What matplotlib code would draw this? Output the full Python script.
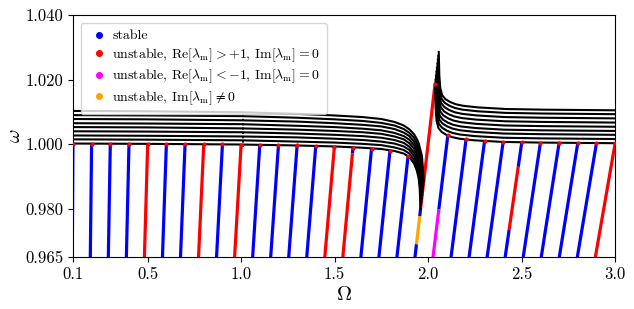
import numpy as np
import matplotlib
matplotlib.use("Agg")
import matplotlib.pyplot as plt
from matplotlib.lines import Line2D

plt.rcParams['font.family'] = 'serif'
plt.rcParams['font.serif'] = ['cmr10', 'DejaVu Serif']
plt.rcParams['mathtext.fontset'] = 'cm'
plt.rcParams['axes.unicode_minus'] = False
plt.rcParams['axes.formatter.use_mathtext'] = True

# ---------------- data ----------------
# colored response lines: top point, bottom point (omega = 0.965)
line_top_x = [0.100, 0.200, 0.300, 0.400, 0.500, 0.600, 0.700, 0.800, 0.900, 0.9996,
              1.0999, 1.1998, 1.2996, 1.3992, 1.4988, 1.5981, 1.6975, 1.7964, 1.8928, 2.0376,
              2.1063, 2.2033, 2.3021, 2.4017, 2.5015, 2.6013, 2.7011, 2.8011, 2.9009, 3.0009]
line_top_y = [1.0000, 1.0000, 1.0000, 1.0000, 1.0000, 1.0000, 1.0000, 1.0000, 1.0000, 0.9996,
              0.9999, 0.9998, 0.9997, 0.9994, 0.9992, 0.9988, 0.9985, 0.9980, 0.9962, 1.0188,
              1.0030, 1.0015, 1.0009, 1.0007, 1.0006, 1.0005, 1.0004, 1.0004, 1.0003, 1.0003]
line_bot_x = [0.0965, 0.193, 0.2895, 0.386, 0.4825, 0.579, 0.6755, 0.772, 0.8685, 0.965,
              1.0615, 1.158, 1.2545, 1.351, 1.4475, 1.544, 1.6405, 1.737, 1.8335, 1.930,
              2.0265, 2.123, 2.2195, 2.316, 2.4125, 2.509, 2.6055, 2.702, 2.7985, 2.895]
line_bot_y = 0.965

# stability segments along lines (line index starting at 1): (omega_from, omega_to, code)
segments = {
    5: [(0.965, 1.0000, 'r')],
    8: [(0.965, 1.0000, 'r')],
    10: [(0.965, 0.9996, 'r')],
    15: [(0.965, 0.9992, 'r')],
    16: [(0.965, 0.9972, 'r'), (0.9972, 0.9988, 'b')],
    20: [(0.965, 0.9690, 'b'), (0.9690, 0.9777, 'o'), (0.9777, 0.9805, 'b'), (0.9805, 1.0188, 'r')],
    21: [(0.965, 0.9798, 'm'), (0.9798, 1.0030, 'b')],
    25: [(0.965, 0.9734, 'b'), (0.9734, 0.9930, 'r'), (0.9930, 1.0006, 'b')],
    30: [(0.965, 1.0003, 'r')],
}
colors = {'b': '#0000ff', 'r': '#ff0000', 'm': '#ff00ff', 'o': '#ffa500'}

# black backbone curves, left branch
left_grid = [0.10, 0.50, 1.00, 1.30, 1.50, 1.65, 1.75, 1.82, 1.87, 1.90, 1.925, 1.94, 1.95]
left_curves = [
    [1.0002, 1.0001, 0.9999, 0.9996, 0.9993, 0.9989, 0.9985, 0.9979, 0.9971, 0.9960, 0.9940, 0.9918, 0.9893],
    [1.0015, 1.0014, 1.0012, 1.0008, 1.0005, 1.0001, 0.9997, 0.9990, 0.9982, 0.9971, 0.9951, 0.9930, 0.9907],
    [1.0027, 1.0026, 1.0024, 1.0021, 1.0017, 1.0013, 1.0008, 1.0002, 0.9993, 0.9982, 0.9963, 0.9943, 0.9921],
    [1.0040, 1.0039, 1.0037, 1.0033, 1.0029, 1.0025, 1.0020, 1.0013, 1.0004, 0.9992, 0.9974, 0.9955, 0.9934],
    [1.0053, 1.0052, 1.0049, 1.0045, 1.0041, 1.0037, 1.0032, 1.0024, 1.0015, 1.0003, 0.9986, 0.9967, 0.9948],
    [1.0065, 1.0064, 1.0062, 1.0057, 1.0053, 1.0048, 1.0043, 1.0035, 1.0025, 1.0014, 0.9997, 0.9979, 0.9962],
    [1.0078, 1.0077, 1.0074, 1.0070, 1.0065, 1.0060, 1.0055, 1.0047, 1.0036, 1.0025, 1.0008, 0.9992, 0.9976],
    [1.0090, 1.0089, 1.0087, 1.0082, 1.0077, 1.0072, 1.0066, 1.0058, 1.0047, 1.0035, 1.0020, 1.0004, 0.9989],
    [1.0103, 1.0102, 1.0099, 1.0094, 1.0089, 1.0084, 1.0078, 1.0069, 1.0058, 1.0046, 1.0031, 1.0016, 1.0003],
]
left_tail_x = [[1.9555, 1.9596], [1.9570, 1.9618], [1.9585, 1.9640], [1.9600, 1.9662], [1.9615, 1.9684],
               [1.9630, 1.9706], [1.9645, 1.9728], [1.9660, 1.9750], [1.9675, 1.9772]]
left_tail_y = [[0.9860, 0.9798], [0.9872, 0.9809], [0.9885, 0.9820], [0.9898, 0.9831], [0.9911, 0.9842],
               [0.9924, 0.9853], [0.9937, 0.9864], [0.9950, 0.9875], [0.9963, 0.9886]]

# black backbone curves, right branch
right_x = [
    [2.0376, 2.0406, 2.0456, 2.0556, 2.0726, 2.0976, 2.1276, 2.1676, 2.2476, 2.3976, 2.5976, 3.0],
    [2.0400, 2.0430, 2.0480, 2.0580, 2.0750, 2.1000, 2.1300, 2.1700, 2.2500, 2.4000, 2.6000, 3.0],
    [2.0426, 2.0456, 2.0506, 2.0606, 2.0776, 2.1026, 2.1326, 2.1726, 2.2526, 2.4026, 2.6026, 3.0],
    [2.0450, 2.0480, 2.0530, 2.0630, 2.0800, 2.1050, 2.1350, 2.1750, 2.2550, 2.4050, 2.6050, 3.0],
    [2.0474, 2.0504, 2.0554, 2.0654, 2.0824, 2.1074, 2.1374, 2.1774, 2.2574, 2.4074, 2.6074, 3.0],
    [2.0500, 2.0530, 2.0580, 2.0680, 2.0850, 2.1100, 2.1400, 2.1800, 2.2600, 2.4100, 2.6100, 3.0],
    [2.0524, 2.0554, 2.0604, 2.0704, 2.0874, 2.1124, 2.1424, 2.1824, 2.2624, 2.4124, 2.6124, 3.0],
    [2.0548, 2.0578, 2.0628, 2.0728, 2.0898, 2.1148, 2.1448, 2.1848, 2.2648, 2.4148, 2.6148, 3.0],
    [2.0572, 2.0602, 2.0652, 2.0752, 2.0922, 2.1172, 2.1472, 2.1872, 2.2672, 2.4172, 2.6172, 3.0],
]
right_y = [
    [1.0188, 1.0112, 1.0072, 1.0050, 1.0038, 1.0029, 1.0022, 1.0017, 1.0012, 1.0007, 1.0005, 1.0003],
    [1.0200, 1.0125, 1.0085, 1.0063, 1.0051, 1.0042, 1.0035, 1.0030, 1.0025, 1.0020, 1.0018, 1.0016],
    [1.0213, 1.0138, 1.0098, 1.0076, 1.0064, 1.0055, 1.0048, 1.0043, 1.0038, 1.0033, 1.0031, 1.0029],
    [1.0225, 1.0150, 1.0110, 1.0088, 1.0076, 1.0067, 1.0060, 1.0055, 1.0050, 1.0045, 1.0043, 1.0041],
    [1.0237, 1.0163, 1.0123, 1.0101, 1.0089, 1.0080, 1.0073, 1.0068, 1.0063, 1.0058, 1.0056, 1.0054],
    [1.0250, 1.0176, 1.0136, 1.0114, 1.0102, 1.0093, 1.0086, 1.0081, 1.0076, 1.0071, 1.0069, 1.0067],
    [1.0262, 1.0189, 1.0149, 1.0127, 1.0115, 1.0106, 1.0099, 1.0094, 1.0089, 1.0084, 1.0082, 1.0080],
    [1.0274, 1.0202, 1.0162, 1.0140, 1.0128, 1.0119, 1.0112, 1.0107, 1.0102, 1.0097, 1.0095, 1.0093],
    [1.0286, 1.0214, 1.0174, 1.0152, 1.0140, 1.0131, 1.0124, 1.0119, 1.0114, 1.0109, 1.0107, 1.0105],
]

# dotted vertical jump at Omega ~ 1
jump_x = [1.008, 1.008]
jump_y = [0.9991, 1.0096]

x_ticks = [0.1, 0.5, 1.0, 1.5, 2.0, 2.5, 3.0]
x_tick_labels = ['0.1', '0.5', '1.0', '1.5', '2.0', '2.5', '3.0']
y_ticks = [0.965, 0.980, 1.000, 1.020, 1.040]
y_tick_labels = ['0.965', '0.980', '1.000', '1.020', '1.040']

legend_labels = [
    'stable',
    r'unstable, Re$[\lambda_\mathrm{m}] > +1$, Im$[\lambda_\mathrm{m}] = 0$',
    r'unstable, Re$[\lambda_\mathrm{m}] < -1$, Im$[\lambda_\mathrm{m}] = 0$',
    r'unstable, Im$[\lambda_\mathrm{m}] \neq 0$',
]
legend_codes = ['b', 'r', 'm', 'o']

# ---------------- plot ----------------
fig = plt.figure(figsize=(6.34, 3.09), dpi=100)
ax = fig.add_axes([0.115, 0.168, 0.855, 0.783])

lw_col = 2.3
for i in range(len(line_top_x)):
    n = i + 1
    xb, xt = line_bot_x[i], line_top_x[i]
    yb, yt = line_bot_y, line_top_y[i]
    segs = segments.get(n, [(yb, yt, 'b')])
    for (y0, y1, c) in segs:
        x0 = np.interp(y0, [yb, yt], [xb, xt])
        x1 = np.interp(y1, [yb, yt], [xb, xt])
        ax.plot([x0, x1], [y0, y1], color=colors[c], lw=lw_col,
                solid_capstyle='butt', zorder=2)

for k in range(len(left_curves)):
    xs = list(left_grid) + left_tail_x[k]
    ys = list(left_curves[k]) + left_tail_y[k]
    ax.plot(xs, ys, color='black', lw=1.5, zorder=3)
for k in range(len(right_x)):
    ax.plot(right_x[k], right_y[k], color='black', lw=1.5, zorder=3)

ax.plot(jump_x, jump_y, color='black', lw=1.3, ls=(0, (1.2, 1.2)), zorder=3)

ax.scatter(line_top_x, line_top_y, s=9, color=colors['r'], zorder=4, linewidths=0)

ax.set_xlim(0.1, 3.0)
ax.set_ylim(0.965, 1.040)
ax.set_xticks(x_ticks)
ax.set_xticklabels(x_tick_labels, fontsize=12)
ax.set_yticks(y_ticks)
ax.set_yticklabels(y_tick_labels, fontsize=12)
ax.set_xlabel(r'$\Omega$', fontsize=15, labelpad=3)
ax.set_ylabel(r'$\omega$', fontsize=15, labelpad=1)

handles = [Line2D([], [], ls='none', marker='o', markersize=4, color=colors[c]) for c in legend_codes]
ax.legend(handles, legend_labels, loc='upper left', prop={'size': 10}, handletextpad=0.2,
          handlelength=1.6, labelspacing=0.28, borderaxespad=0.55, borderpad=0.5)

fig.savefig('out.png', dpi=100)
